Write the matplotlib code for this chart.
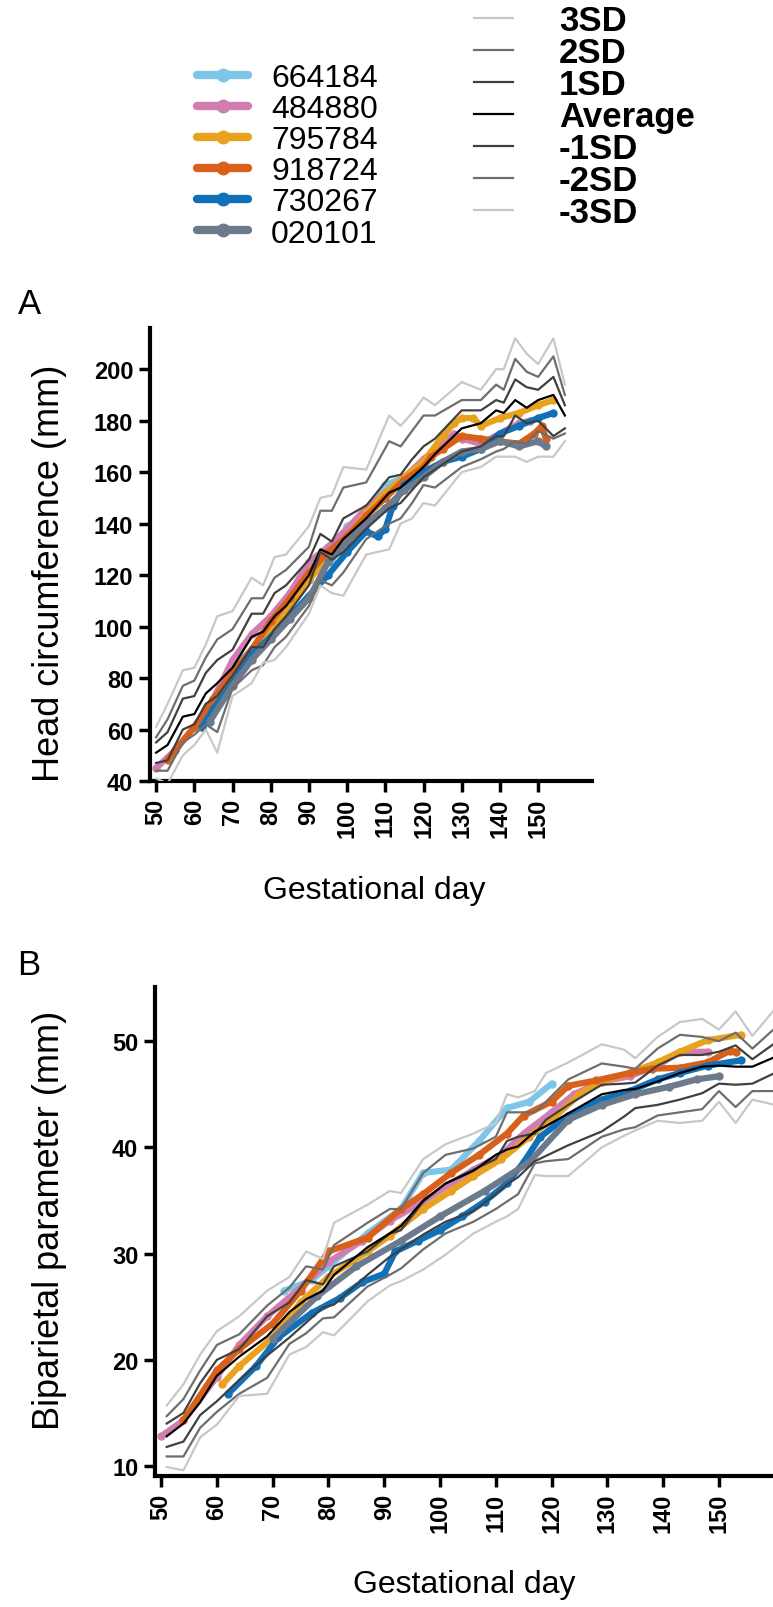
import numpy as np
import matplotlib.pyplot as plt

plt.rcParams['font.family'] = ['Liberation Sans', 'DejaVu Sans']

# ---- panel A : head circumference (mm) ----
sd_days_a = [50, 53, 57, 60, 63, 66, 70, 75, 78, 81, 84, 90, 93, 96, 99, 105, 111, 114,
             117, 120, 123, 130, 135, 139, 141, 144, 147, 150, 154, 157]
p3sd_a = [61, 70, 83, 84, 93, 104, 106, 119, 116, 127, 128, 139, 150, 151, 162, 161, 182, 178,
          183, 189, 186, 195, 192, 200, 200, 212, 206, 202, 212, 194]
p2sd_a = [57, 64, 77, 79, 88, 95, 99, 111, 111, 119, 122, 131, 145, 145, 154, 156, 172, 170,
          176, 182, 182, 188, 188, 194, 192, 204, 199, 197, 205, 190]
p1sd_a = [55, 59, 72, 73, 82, 87, 91, 105, 105, 113, 116, 126, 136, 133, 142, 147, 158, 159,
          165, 170, 173, 184, 184, 188, 187, 196, 193, 192, 197, 186]
avg_a = [51, 54, 65, 66, 74, 78, 84, 96, 98, 104, 108, 120, 130, 128, 134, 142, 152, 154,
         158, 162, 167, 177, 179, 184, 183, 188, 185, 188, 190, 182]
m1sd_a = [47, 48, 60, 62, 70, 73, 81, 92, 92, 99, 104, 116, 129, 126, 129, 138, 146, 148,
          153, 158, 161, 168, 170, 174, 174, 182, 179, 180, 174, 177]
m2sd_a = [44, 44, 55, 58, 62, 59, 76, 83, 85, 92, 96, 108, 118, 116, 121, 134, 140, 142,
          148, 155, 154, 162, 165, 168, 169, 172, 171, 176, 173, 175]
m3sd_a = [41, 39, 50, 54, 60, 51, 73, 78, 86, 87, 92, 105, 116, 113, 112, 128, 130, 140,
          142, 148, 147, 160, 162, 166, 166, 166, 164, 166, 166, 172]

d664184_a = [70, 73, 76, 80, 85, 90, 93, 96, 100, 105, 110, 115, 120]
v664184_a = [83, 88, 93, 100, 108, 118, 127, 125, 139, 143, 155, 158, 164]
d484880_a = [50, 55, 60, 65, 70, 75, 80, 85, 90, 95, 100, 105, 110, 115, 120, 125, 128, 130,
             135, 140, 145, 148]
v484880_a = [45, 52, 61, 72, 87, 97, 104, 113, 125, 131, 138, 146, 152, 158, 165, 171, 175, 173,
             171, 175, 179, 180]
d795784_a = [62, 65, 70, 75, 80, 85, 90, 95, 100, 105, 110, 115, 120, 125, 128, 130, 133, 135,
             140, 145, 150, 154]
v795784_a = [61, 68, 80, 90, 99, 108, 118, 127, 135, 144, 152, 158, 164, 174, 179, 181, 181, 178,
             181, 183, 186, 188]
d918724_a = [53, 55, 60, 65, 70, 75, 80, 85, 90, 95, 100, 105, 110, 115, 120, 122, 125, 130,
             135, 140, 145, 149, 151, 152]
v918724_a = [48, 52, 61, 72, 82, 91, 102, 111, 121, 129, 135, 143, 150, 157, 162, 166, 169, 174,
             173, 172, 171, 175, 178, 173]
d730267_a = [62, 65, 70, 75, 80, 85, 90, 95, 100, 105, 108, 110, 112, 115, 120, 125, 130, 135,
             140, 145, 150, 154]
v730267_a = [61, 68, 78, 89, 96, 104, 112, 120, 129, 137, 135, 138, 147, 155, 160, 164, 166, 169,
             175, 178, 181, 183]
d020101_a = [64, 70, 75, 80, 85, 90, 95, 100, 105, 110, 115, 120, 125, 130, 135, 140, 145, 150, 152]
v020101_a = [63, 77, 87, 95, 103, 111, 125, 133, 140, 146, 153, 158, 164, 168, 169, 172, 170, 172, 170]

# ---- panel B : biparietal parameter (mm) ----
sd_days_b = [51, 54, 57, 60, 64, 69, 73, 76, 79, 81, 87, 91, 93, 97, 101, 106, 110, 112, 114,
             117, 119, 123, 129, 133, 135, 139, 143, 147, 150, 153, 156, 160]
p3sd_b = [15.7, 17.7, 20.5, 22.7, 24.1, 26.5, 27.8, 30.2, 29.5, 32.9, 34.6, 35.9, 35.7, 38.9, 40.3,
          41.3, 42.3, 45.0, 44.7, 45.3, 47.0, 48.0, 49.7, 49.2, 48.4, 50.4, 51.8, 52.1, 51.1, 52.8,
          50.5, 53.0]
p2sd_b = [14.7, 16.3, 19.0, 21.4, 22.4, 25.1, 26.8, 28.8, 28.5, 30.8, 32.9, 34.2, 34.2, 37.6, 39.3,
          39.9, 41.0, 43.3, 43.3, 43.3, 44.3, 46.4, 47.9, 47.6, 47.4, 49.3, 50.6, 50.4, 50.0, 50.8,
          49.3, 51.2]
p1sd_b = [14.0, 15.0, 17.8, 20.0, 21.0, 24.1, 25.4, 27.5, 27.1, 28.8, 30.2, 31.9, 32.2, 34.9, 36.6,
          37.9, 38.9, 40.6, 41.0, 41.3, 42.6, 44.0, 45.9, 46.0, 46.1, 47.7, 48.7, 48.7, 49.0, 49.6,
          48.3, 49.8]
avg_b = [12.8, 14.0, 16.0, 18.5, 20.3, 22.2, 24.5, 25.7, 26.5, 28.0, 30.6, 31.9, 32.6, 35.0, 36.6,
         37.8, 39.3, 39.8, 40.1, 41.5, 42.0, 43.2, 45.0, 45.4, 45.5, 46.2, 47.0, 47.6, 47.7, 47.6,
         47.6, 48.5]
m1sd_b = [11.8, 12.3, 14.8, 16.1, 18.1, 20.4, 22.1, 23.5, 24.9, 25.2, 28.0, 29.7, 30.4, 31.8, 33.0,
          34.0, 35.6, 36.5, 37.2, 38.7, 39.2, 40.2, 41.5, 42.9, 43.7, 44.0, 44.5, 45.1, 46.0, 45.9,
          46.0, 47.0]
m2sd_b = [10.9, 10.9, 13.6, 15.1, 16.8, 18.3, 21.5, 22.5, 23.9, 24.0, 26.9, 28.0, 28.6, 30.4, 31.9,
          33.0, 34.2, 34.9, 35.6, 38.5, 38.7, 38.9, 41.0, 41.7, 41.9, 43.0, 43.3, 43.6, 45.3, 43.8,
          45.3, 45.3]
m3sd_b = [9.9, 9.6, 12.7, 13.9, 16.6, 16.8, 20.5, 21.2, 22.6, 22.3, 25.5, 27.0, 27.4, 28.5, 29.9,
          31.9, 33.0, 33.5, 34.2, 37.4, 37.3, 37.3, 40.0, 41.1, 41.6, 42.5, 42.3, 42.5, 44.3, 42.3,
          44.5, 44.0]

d664184_b = [72, 77, 80, 87, 93, 97, 102, 107, 112, 116, 120]
v664184_b = [26.5, 27.5, 28.8, 31.9, 34.2, 37.6, 37.9, 40.6, 43.7, 44.3, 46.0]
d484880_b = [50, 54, 60, 64, 69, 75, 80, 86, 91, 97, 102, 106, 111, 115, 120, 124, 129, 134, 139,
             143, 148]
v484880_b = [12.8, 14.3, 18.4, 21.4, 24.1, 26.8, 29.2, 31.2, 33.1, 34.9, 36.6, 37.9, 39.3, 41.3,
             43.3, 45.0, 46.2, 46.7, 47.7, 49.0, 49.0]
d795784_b = [61, 64, 70, 75, 80, 87, 91, 97, 102, 106, 111, 116, 120, 125, 129, 134, 139, 143, 148, 154]
v795784_b = [17.7, 19.4, 22.1, 25.4, 27.8, 30.2, 31.7, 34.2, 35.9, 37.3, 38.9, 41.0, 42.6, 45.0,
             46.2, 47.0, 48.0, 49.0, 50.1, 50.6]
d918724_b = [54, 60, 64, 70, 75, 80, 87, 93, 97, 102, 107, 112, 115, 120, 123, 128, 134, 138, 143,
             148, 152, 153]
v918724_b = [14.3, 19.0, 21.0, 23.4, 26.5, 30.2, 31.5, 34.2, 35.6, 37.6, 39.3, 41.3, 43.0, 44.3,
             45.8, 46.3, 47.0, 47.4, 47.5, 48.0, 49.1, 49.0]
d730267_b = [62, 67, 71, 77, 82, 86, 90, 92, 96, 100, 104, 108, 112, 115, 118, 123, 129, 134, 139,
             143, 148, 154]
v730267_b = [16.8, 19.4, 22.1, 24.4, 25.8, 27.3, 28.1, 30.2, 31.2, 32.2, 33.5, 34.9, 36.6, 38.6,
             41.0, 43.0, 44.5, 45.3, 46.4, 47.0, 47.7, 48.2]
d020101_b = [70, 78, 85, 93, 100, 108, 116, 123, 129, 135, 141, 146, 150]
v020101_b = [22.0, 26.0, 28.8, 31.2, 33.5, 35.9, 38.6, 42.6, 44.0, 45.0, 45.7, 46.4, 46.7]

animal_ids = ['664184', '484880', '795784', '918724', '730267', '020101']
animal_colors = ['#7cc6e8', '#d27db2', '#e8a21e', '#d9601a', '#1070b8', '#6c7a8e']
sd_names = ['3SD', '2SD', '1SD', 'Average', '-1SD', '-2SD', '-3SD']
sd_colors = ['#c8c8c8', '#6e6e6e', '#404040', '#000000', '#404040', '#6e6e6e', '#c8c8c8']

series_a = [(d664184_a, v664184_a), (d484880_a, v484880_a), (d795784_a, v795784_a),
            (d918724_a, v918724_a), (d730267_a, v730267_a), (d020101_a, v020101_a)]
series_b = [(d664184_b, v664184_b), (d484880_b, v484880_b), (d795784_b, v795784_b),
            (d918724_b, v918724_b), (d730267_b, v730267_b), (d020101_b, v020101_b)]
sd_a = [p3sd_a, p2sd_a, p1sd_a, avg_a, m1sd_a, m2sd_a, m3sd_a]
sd_b = [p3sd_b, p2sd_b, p1sd_b, avg_b, m1sd_b, m2sd_b, m3sd_b]

W, H = 773, 1608
fig = plt.figure(figsize=(W / 100, H / 100), dpi=100)
# panel A is narrower than panel B in the original
axA = fig.add_axes([150 / W, 1 - 782 / H, (592 - 150) / W, (782 - 329) / H])
axB = fig.add_axes([155 / W, 1 - 1477 / H, (773 - 155) / W, (1477 - 988) / H])


def draw_panel(ax, series, sd_days, sds):
    animal_lines = []
    for (d, v), c in zip(series, animal_colors):
        ln, = ax.plot(d, v, color=c, lw=4.5, marker='o', ms=5, solid_capstyle='round', zorder=2)
        animal_lines.append(ln)
    sd_lines = []
    for v, c in zip(sds, sd_colors):
        ln, = ax.plot(sd_days, v, color=c, lw=1.6, zorder=3)
        sd_lines.append(ln)
    for s in ['top', 'right']:
        ax.spines[s].set_visible(False)
    for s in ['left', 'bottom']:
        ax.spines[s].set_linewidth(3)
    ax.tick_params(direction='out', length=8, width=2.5, labelsize=17, pad=4)
    ax.set_xticks(np.arange(50, 151, 10))
    for lab in ax.get_xticklabels() + ax.get_yticklabels():
        lab.set_fontweight('bold')
    for lab in ax.get_xticklabels():
        lab.set_rotation(90)
    return animal_lines, sd_lines


lines_a, sdl_a = draw_panel(axA, series_a, sd_days_a, sd_a)
draw_panel(axB, series_b, sd_days_b, sd_b)

axA.set_xlim(48.4, 164.1)
axA.set_ylim(40, 216)
axA.set_yticks(np.arange(40, 201, 20))
axB.set_xlim(48.9, 159.7)
axB.set_ylim(9.06, 55.1)
axB.set_yticks([10, 20, 30, 40, 50])

axA.set_ylabel('Head circumference (mm)', fontsize=26)
axA.yaxis.set_label_coords(-0.188, 0.46)
axA.set_xlabel('Gestational day', fontsize=23)
axA.xaxis.set_label_coords(0.507, -0.207)
axB.set_ylabel('Biparietal parameter (mm)', fontsize=26)
axB.yaxis.set_label_coords(-0.142, 0.525)
axB.set_xlabel('Gestational day', fontsize=23)
axB.xaxis.set_label_coords(0.5, -0.19)

fig.text(29 / W, 1 - 305 / H, 'A', fontsize=25, ha='center', va='center')
fig.text(29 / W, 1 - 966 / H, 'B', fontsize=25, ha='center', va='center')

leg1 = fig.legend(lines_a, animal_ids, loc='upper left', bbox_to_anchor=(197 / W, 1 - 64 / H),
                  frameon=False, fontsize=23, handlelength=1.6, handletextpad=0.72,
                  labelspacing=0.035, borderpad=0, borderaxespad=0)
# thicker legend bars with a visible dot, as in the original key
for h in leg1.legend_handles:
    h.set_linewidth(6)
    h.set_markersize(9)
fig.legend(sdl_a, sd_names, loc='upper left', bbox_to_anchor=(474 / W, 1 - 5 / H),
           frameon=False, prop={'size': 25, 'weight': 'bold'}, handlelength=1.12,
           handletextpad=1.33, labelspacing=-0.03, borderpad=0, borderaxespad=0)

fig.savefig('out.png', dpi=100)
